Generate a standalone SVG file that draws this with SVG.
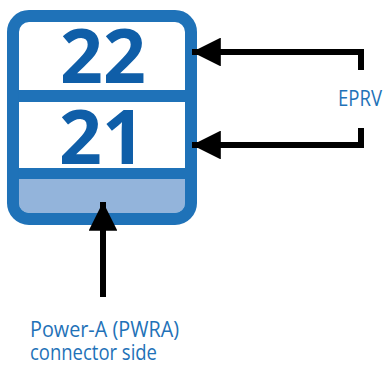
<svg xmlns="http://www.w3.org/2000/svg" width="384" height="365" viewBox="0 0 384 365">
<style>
.frame{fill:none;stroke:#1f72b8;stroke-width:12}
.num{font-family:"Open Sans",sans-serif;font-weight:bold;font-size:75px;fill:#0f5ea8;text-anchor:middle}
.lbl{font-family:"Open Sans",sans-serif;font-size:21.5px;fill:#1f72b8}
.wire{fill:none;stroke:#000;stroke-width:6}
</style>
<defs>
<marker id="ah" viewBox="0 0 10 10" refX="10" refY="5" markerWidth="6.5" markerHeight="4.8" markerUnits="strokeWidth" orient="auto">
<path d="M0,0 L10,5 L0,10 z" fill="#000"/>
</marker>
</defs>
<g id="module">
<rect x="13" y="16.5" width="178" height="202.5" rx="14" fill="#fff"/>
<path d="M19,179 H185 V203 a10,10 0 0 1 -10,10 H29 a10,10 0 0 1 -10,-10 z" fill="#93b4db"/>
<rect x="13" y="90" width="178" height="12" fill="#1f72b8"/>
<rect x="13" y="168" width="178" height="11" fill="#1f72b8"/>
<rect class="frame" x="13" y="16" width="178" height="203" rx="16"/>
</g>
<g id="slot22"><text class="num" x="103" y="83">22</text></g>
<g id="slot21"><text class="num" x="102" y="164">21</text></g>
<g id="eprv"><text class="lbl" x="338" y="106" font-size="20" textLength="44" lengthAdjust="spacingAndGlyphs">EPRV</text></g>
<g id="pwra"><text class="lbl" x="30" y="337" textLength="149" lengthAdjust="spacingAndGlyphs">Power-A (PWRA)</text><text class="lbl" x="30" y="360" textLength="127" lengthAdjust="spacingAndGlyphs">connector side</text></g>
<g id="connectors">
<path class="wire" d="M361,70 V52 H192" marker-end="url(#ah)"/>
<path class="wire" d="M361,128 V145 H192" marker-end="url(#ah)"/>
<path class="wire" d="M103,297 V202" marker-end="url(#ah)"/>
</g>
</svg>
